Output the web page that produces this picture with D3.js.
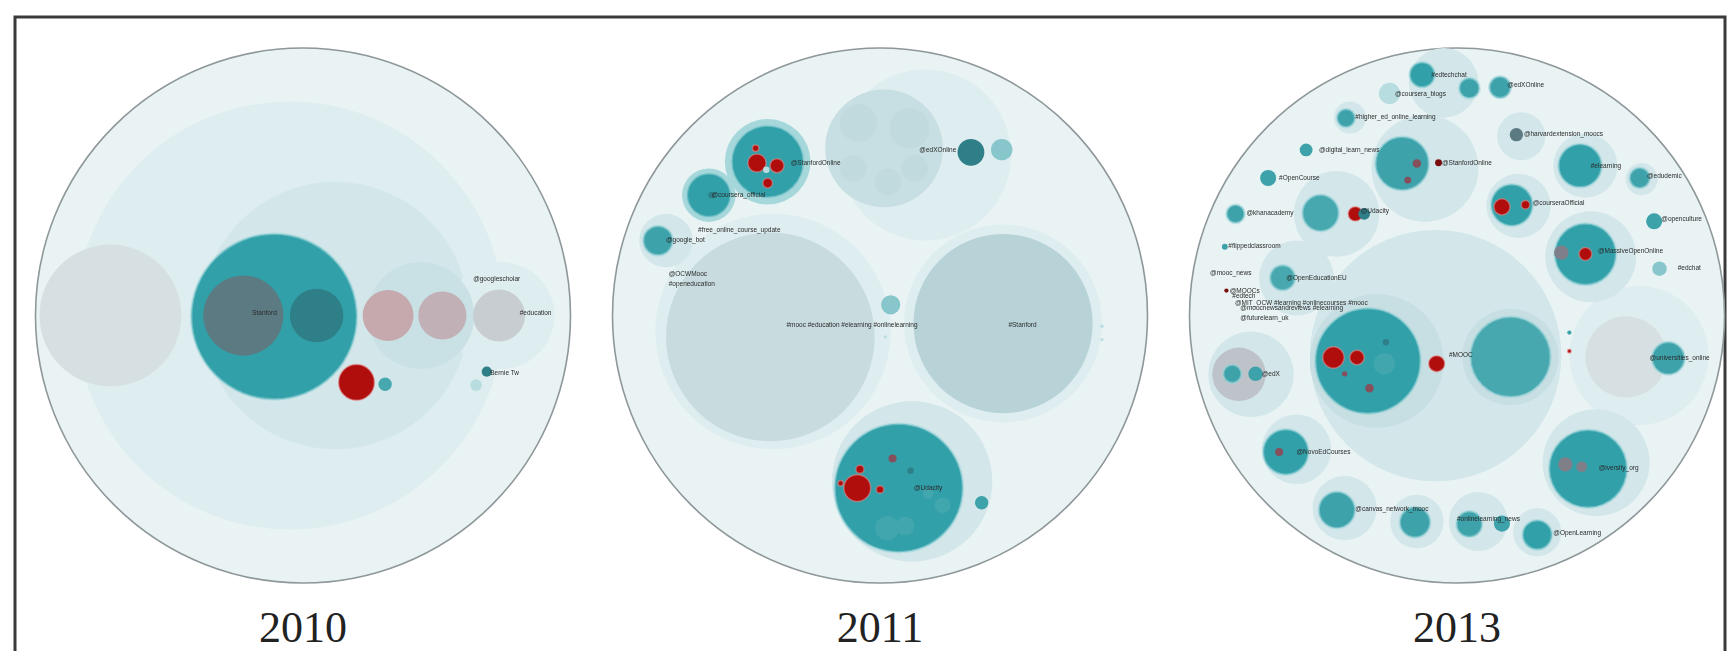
<!DOCTYPE html>
<html><head><meta charset="utf-8">
<script src="https://cdn.jsdelivr.net/npm/d3@7"></script>
<style>html,body{margin:0;padding:0;background:#fff;overflow:hidden}</style>
</head><body>
<svg id="chart" width="1727" height="651"></svg>
<script>
// ---------- DATA (normalised to each panel's outer circle: x,y in [-1,1], r in [0,1]) ----------
const years = ["2010", "2011", "2013"];

const kinds  = ["outer","layer1","layer2","layer3","pale3","pale4","paleBig","paleBig2","gray","grayMid","grayPink","pink","pink2","teal","tealMid","tealMid2","tealSub","tealDark","tealLight","tealHalo","slate","red","redDark","mauve","mauveGray","pale"];

// [x, y, r, kind]
const circles2010 = [
  [0, 0, 1, "outer"],
  [-0.05, 0, 0.8, "layer1"],
  [-0.72, 0, 0.265, "gray"],
  [0.12, 0, 0.5, "layer2"],
  [0.74, 0, 0.2, "layer1"],
  [0.44, 0, 0.2, "layer3"],
  [-0.108, 0.004, 0.31, "teal"],
  [-0.223, 0, 0.15, "slate"],
  [0.051, 0, 0.10, "tealDark"],
  [0.318, 0, 0.095, "pink"],
  [0.521, 0, 0.09, "pink2"],
  [0.733, 0, 0.097, "grayMid"],
  [0.2, 0.25, 0.067, "red"],
  [0.307, 0.257, 0.025, "tealMid2"],
  [0.647, 0.26, 0.022, "pale"],
  [0.687, 0.21, 0.019, "tealDark"]
];
const labels2010 = [
  [-0.19, -0.01, "Stanford"],
  [0.636, -0.137, "@googlescholar"],
  [0.81, -0.01, "#education"],
  [0.70, 0.215, "Bernie Tw"]
];

const circles2011 = [
  [0, 0, 1, "outer"],
  [-0.40, 0.06, 0.44, "layer1"],
  [0.46, 0.03, 0.37, "layer1"],
  [0.17, -0.6, 0.32, "layer1"],
  [0.12, 0.62, 0.3, "layer2"],
  [-0.41, 0.08, 0.39, "paleBig"],
  [0.46, 0.03, 0.335, "paleBig2"],
  [0.015, -0.625, 0.22, "pale3"],
  [-0.08, -0.72, 0.07, "pale4"],
  [0.11, -0.70, 0.075, "pale4"],
  [0.03, -0.50, 0.05, "pale4"],
  [-0.10, -0.55, 0.05, "pale4"],
  [0.13, -0.55, 0.05, "pale4"],
  [0.34, -0.61, 0.05, "tealDark"],
  [0.455, -0.62, 0.04, "tealLight"],
  [-0.42, -0.575, 0.16, "tealHalo"],
  [-0.42, -0.575, 0.135, "teal"],
  [-0.46, -0.57, 0.034, "red"],
  [-0.385, -0.56, 0.026, "red"],
  [-0.42, -0.495, 0.018, "red"],
  [-0.465, -0.625, 0.012, "red"],
  [-0.425, -0.545, 0.012, "pale"],
  [-0.64, -0.45, 0.1, "tealHalo"],
  [-0.64, -0.45, 0.082, "teal"],
  [-0.63, -0.45, 0.012, "tealDark"],
  [-0.80, -0.28, 0.1, "layer2"],
  [-0.83, -0.28, 0.055, "tealMid"],
  [0.04, -0.04, 0.036, "tealLight"],
  [0.07, 0.645, 0.24, "teal"],
  [0.027, 0.795, 0.045, "tealSub"],
  [0.094, 0.787, 0.035, "tealSub"],
  [0.234, 0.71, 0.03, "tealSub"],
  [0.18, 0.665, 0.02, "tealSub"],
  [0.114, 0.58, 0.012, "tealDark"],
  [-0.085, 0.645, 0.05, "red"],
  [-0.075, 0.575, 0.015, "red"],
  [0.0, 0.65, 0.014, "red"],
  [-0.147, 0.627, 0.01, "red"],
  [0.047, 0.535, 0.015, "mauve"],
  [0.38, 0.70, 0.025, "tealMid"],
  [0.83, 0.04, 0.006, "pale"],
  [0.83, 0.09, 0.006, "pale"],
  [0.02, 0.08, 0.006, "pale"]
];
const labels2011 = [
  [-0.334, -0.57, "@StanfordOnline"],
  [-0.63, -0.45, "@coursera_official"],
  [-0.68, -0.32, "#free_online_course_update"],
  [-0.80, -0.285, "@google_bot"],
  [-0.79, -0.155, "@OCWMooc"],
  [-0.79, -0.118, "#openeducation"],
  [0.147, -0.62, "@edXOnline"],
  [-0.35, 0.033, "#mooc #education #elearning #onlinelearning"],
  [0.48, 0.033, "#Stanford"],
  [0.127, 0.642, "@Udacity"]
];

const circles2013 = [
  [0, 0, 1, "outer"],
  [-0.08, 0.15, 0.47, "layer2"],
  [-0.3, 0.17, 0.25, "pale3"],
  [0.2, 0.155, 0.18, "pale3"],
  [0.68, 0.15, 0.26, "layer1"],
  [0.632, 0.155, 0.152, "gray"],
  [0.79, 0.16, 0.061, "tealMid"],
  [-0.77, 0.22, 0.16, "layer2"],
  [-0.815, 0.22, 0.1, "grayPink"],
  [-0.84, 0.218, 0.034, "tealMid"],
  [-0.753, 0.218, 0.027, "tealMid"],
  [-0.6, 0.5, 0.13, "layer2"],
  [-0.64, 0.51, 0.085, "teal"],
  [-0.665, 0.51, 0.015, "mauve"],
  [0.52, 0.55, 0.2, "layer2"],
  [0.49, 0.573, 0.146, "teal"],
  [0.405, 0.557, 0.027, "mauveGray"],
  [0.466, 0.565, 0.02, "mauveGray"],
  [-0.42, 0.72, 0.12, "layer2"],
  [-0.15, 0.77, 0.1, "layer2"],
  [0.08, 0.77, 0.11, "layer2"],
  [0.3, 0.81, 0.09, "layer2"],
  [-0.449, 0.727, 0.068, "tealMid"],
  [-0.157, 0.773, 0.057, "tealMid"],
  [0.046, 0.78, 0.048, "tealMid"],
  [0.168, 0.778, 0.03, "tealMid"],
  [0.3, 0.82, 0.055, "teal"],
  [0.5, -0.22, 0.17, "layer2"],
  [0.48, -0.229, 0.115, "teal"],
  [0.39, -0.235, 0.027, "mauveGray"],
  [0.48, -0.23, 0.024, "red"],
  [0.48, -0.56, 0.12, "layer2"],
  [0.46, -0.56, 0.081, "teal"],
  [0.69, -0.51, 0.06, "layer2"],
  [0.683, -0.514, 0.038, "tealMid"],
  [0.737, -0.352, 0.03, "tealMid"],
  [0.757, -0.175, 0.027, "tealLight"],
  [0.23, -0.41, 0.12, "layer2"],
  [0.205, -0.413, 0.078, "teal"],
  [0.168, -0.406, 0.03, "red"],
  [0.256, -0.414, 0.016, "red"],
  [0.24, -0.67, 0.09, "layer2"],
  [0.222, -0.676, 0.025, "slate"],
  [-0.12, -0.55, 0.2, "layer2"],
  [-0.205, -0.568, 0.1, "tealMid"],
  [-0.15, -0.568, 0.016, "mauve"],
  [-0.184, -0.506, 0.013, "mauve"],
  [-0.069, -0.571, 0.013, "redDark"],
  [-0.4, -0.74, 0.06, "layer2"],
  [-0.415, -0.738, 0.034, "tealMid"],
  [-0.564, -0.619, 0.024, "tealMid"],
  [-0.706, -0.514, 0.03, "tealMid"],
  [-0.828, -0.38, 0.034, "tealMid"],
  [-0.45, -0.38, 0.16, "layer2"],
  [-0.51, -0.383, 0.068, "tealMid2"],
  [-0.38, -0.38, 0.027, "red"],
  [-0.347, -0.38, 0.022, "tealDark"],
  [-0.868, -0.257, 0.011, "tealMid"],
  [-0.6, -0.14, 0.14, "layer2"],
  [-0.652, -0.141, 0.047, "tealMid2"],
  [-0.862, -0.093, 0.008, "redDark"],
  [-0.05, -0.87, 0.13, "layer2"],
  [-0.13, -0.9, 0.047, "teal"],
  [0.046, -0.85, 0.038, "tealMid"],
  [0.161, -0.853, 0.04, "tealMid"],
  [-0.252, -0.83, 0.04, "pale"],
  [0.42, 0.064, 0.008, "tealMid"],
  [0.42, 0.133, 0.007, "red"],
  [-0.333, 0.17, 0.197, "teal"],
  [-0.272, 0.18, 0.04, "tealSub"],
  [-0.462, 0.157, 0.04, "red"],
  [-0.374, 0.157, 0.027, "red"],
  [-0.327, 0.272, 0.016, "mauve"],
  [-0.42, 0.218, 0.01, "mauve"],
  [-0.266, 0.1, 0.012, "tealDark"],
  [-0.076, 0.18, 0.03, "red"],
  [0.2, 0.155, 0.15, "tealMid2"]
];
const labels2013 = [
  [-0.096, -0.9, "#edtechchat"],
  [0.188, -0.861, "@edXOnline"],
  [-0.232, -0.83, "@coursera_blogs"],
  [-0.38, -0.742, "#higher_ed_online_learning"],
  [-0.516, -0.619, "@digital_learn_news"],
  [-0.665, -0.514, "#OpenCourse"],
  [-0.787, -0.383, "@khanacademy"],
  [-0.36, -0.39, "@Udacity"],
  [-0.855, -0.26, "#flippedclassroom"],
  [-0.923, -0.16, "@mooc_news"],
  [-0.638, -0.141, "@OpenEducationEU"],
  [-0.85, -0.093, "@MOOCs"],
  [-0.84, -0.073, "#edtech"],
  [-0.83, -0.048, "@MIT_OCW #learning #onlinecourses #mooc"],
  [-0.81, -0.028, "@moocnewsandreviews #elearning"],
  [-0.81, 0.008, "@futurelearn_uk"],
  [-0.056, -0.571, "@StanfordOnline"],
  [0.25, -0.68, "@harvardextension_moocs"],
  [0.5, -0.56, "#elearning"],
  [0.71, -0.522, "@edudemic"],
  [0.764, -0.36, "@openculture"],
  [0.527, -0.241, "@MassiveOpenOnline"],
  [0.825, -0.178, "#edchat"],
  [0.283, -0.42, "@courseraOfficial"],
  [-0.03, 0.146, "#MOOC"],
  [0.72, 0.157, "@universities_online"],
  [-0.73, 0.218, "@edX"],
  [-0.6, 0.51, "@NovoEdCourses"],
  [0.53, 0.568, "@iversity_org"],
  [-0.38, 0.722, "@canvas_network_mooc"],
  [0.0, 0.758, "#onlinelearning_news"],
  [0.36, 0.812, "@OpenLearning"]
];

const panelCircles = { "2010": circles2010, "2011": circles2011, "2013": circles2013 };
const panelLabels  = { "2010": labels2010,  "2011": labels2011,  "2013": labels2013 };

// ---------- STYLE / LAYOUT ----------
const colour = d3.scaleOrdinal().domain(kinds).range([
  "#e9f3f4","#deedef","#d3e7ea","#c9e1e4","#c7dfe2","#c0dadd","#c8dcdf","#b8d3d7",
  "#d6e0e3","#c8cdd2","#bdc3c8","#c5a9ad","#c1b1b7",
  "#31a0a9","#3ca2aa","#47a8af","#42a6ae","#2f7f88","#87c6cb","#a6d7db","#5c7a82",
  "#b00d0d","#7a1010","#86505c","#7f7f8a","#b8dde0"]);

const ringed = new Set(["teal", "tealMid", "tealMid2"]);

const svg = d3.select("#chart");
const defs = svg.append("defs");
defs.append("filter").attr("id", "soft").attr("x", "-5%").attr("y", "-5%").attr("width", "110%").attr("height", "110%")
  .append("feGaussianBlur").attr("stdDeviation", 0.7);

const R = 267.5, CY = 315.5;
const panelX = d3.scalePoint().domain(years).range([303, 1457]);

// frame
svg.append("rect").attr("x", 15).attr("y", 17).attr("width", 1710).attr("height", 700)
  .attr("fill", "none").attr("stroke", "#3a3a3a").attr("stroke-width", 3);

years.forEach(yr => {
  const cx = panelX(yr);
  const x = d3.scaleLinear().domain([-1, 1]).range([cx - R, cx + R]);
  const y = d3.scaleLinear().domain([-1, 1]).range([CY - R, CY + R]);
  const rs = d3.scaleLinear().domain([0, 1]).range([0, R]);
  const g = svg.append("g").attr("class", "panel").attr("filter", "url(#soft)");

  g.selectAll("circle").data(panelCircles[yr]).join("circle")
    .attr("cx", d => x(d[0])).attr("cy", d => y(d[1])).attr("r", d => rs(d[2]))
    .attr("fill", d => colour(d[3]))
    .attr("stroke", d => d[3] === "outer" ? "#8e9799" :
                         d[3] === "red" ? "#e58c8c" :
                         (ringed.has(d[3]) && d[2] > 0.03) ? "#9ad4d8" : "none")
    .attr("stroke-width", d => d[3] === "outer" ? 1.6 : d[3] === "red" ? 1.5 : 2.5)
    .attr("stroke-opacity", d => d[3] === "outer" ? 1 : 0.55);

  g.selectAll("text.lbl").data(panelLabels[yr]).join("text").attr("class", "lbl")
    .attr("x", d => x(d[0])).attr("y", d => y(d[1]))
    .attr("dy", "0.35em")
    .attr("font-family", "Liberation Sans, Arial, sans-serif")
    .attr("font-size", 6.5).attr("fill", "#2a2a2a")
    .text(d => d[2]);

  svg.append("text").attr("x", cx).attr("y", 642)
    .attr("text-anchor", "middle")
    .attr("font-family", "Liberation Serif, Times New Roman, serif")
    .attr("font-size", 44).attr("fill", "#222")
    .text(yr);
});
</script>
</body></html>
